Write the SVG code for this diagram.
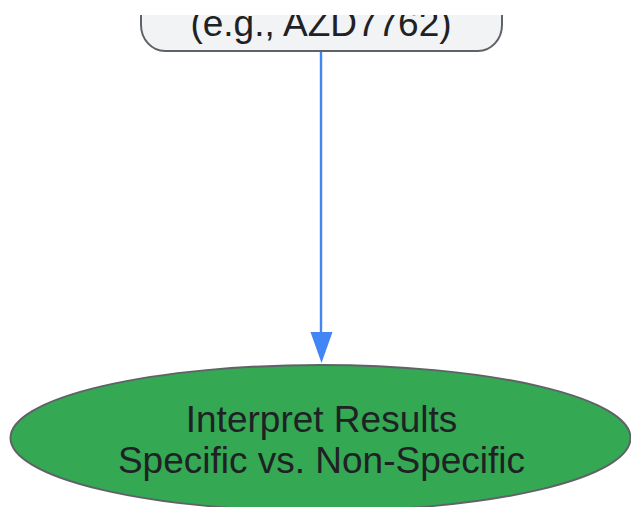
<svg xmlns="http://www.w3.org/2000/svg" width="631" height="507" viewBox="0 0 631 507">
<style>
.lbl{font-family:"Liberation Sans",Arial,sans-serif;font-size:37px;fill:#202124;text-anchor:middle}
.node{stroke:#5f6368;stroke-width:2}
.edge{stroke:#4285F4;stroke-width:2.4;fill:none}
</style>
<rect width="631" height="507" fill="#ffffff"/>
<g id="node-top">
<rect class="node" x="141" y="-40" width="361" height="91" rx="24" ry="26" fill="#F1F3F4"/>
<text class="lbl" x="321" y="36">(e.g., AZD7762)</text>
</g>
<rect x="0" y="0" width="631" height="15" fill="#ffffff"/>
<g id="connectors">
<line class="edge" x1="321" y1="52" x2="321" y2="333"/>
<polygon points="310.5,332 332.5,332 321.5,363" fill="#4285F4"/>
</g>
<g id="node-interpret">
<ellipse class="node" cx="320.5" cy="438" rx="310" ry="73" fill="#34A853"/>
<text class="lbl" x="321.5" y="432">Interpret Results</text>
<text class="lbl" x="321.5" y="473">Specific vs. Non-Specific</text>
</g>
</svg>
